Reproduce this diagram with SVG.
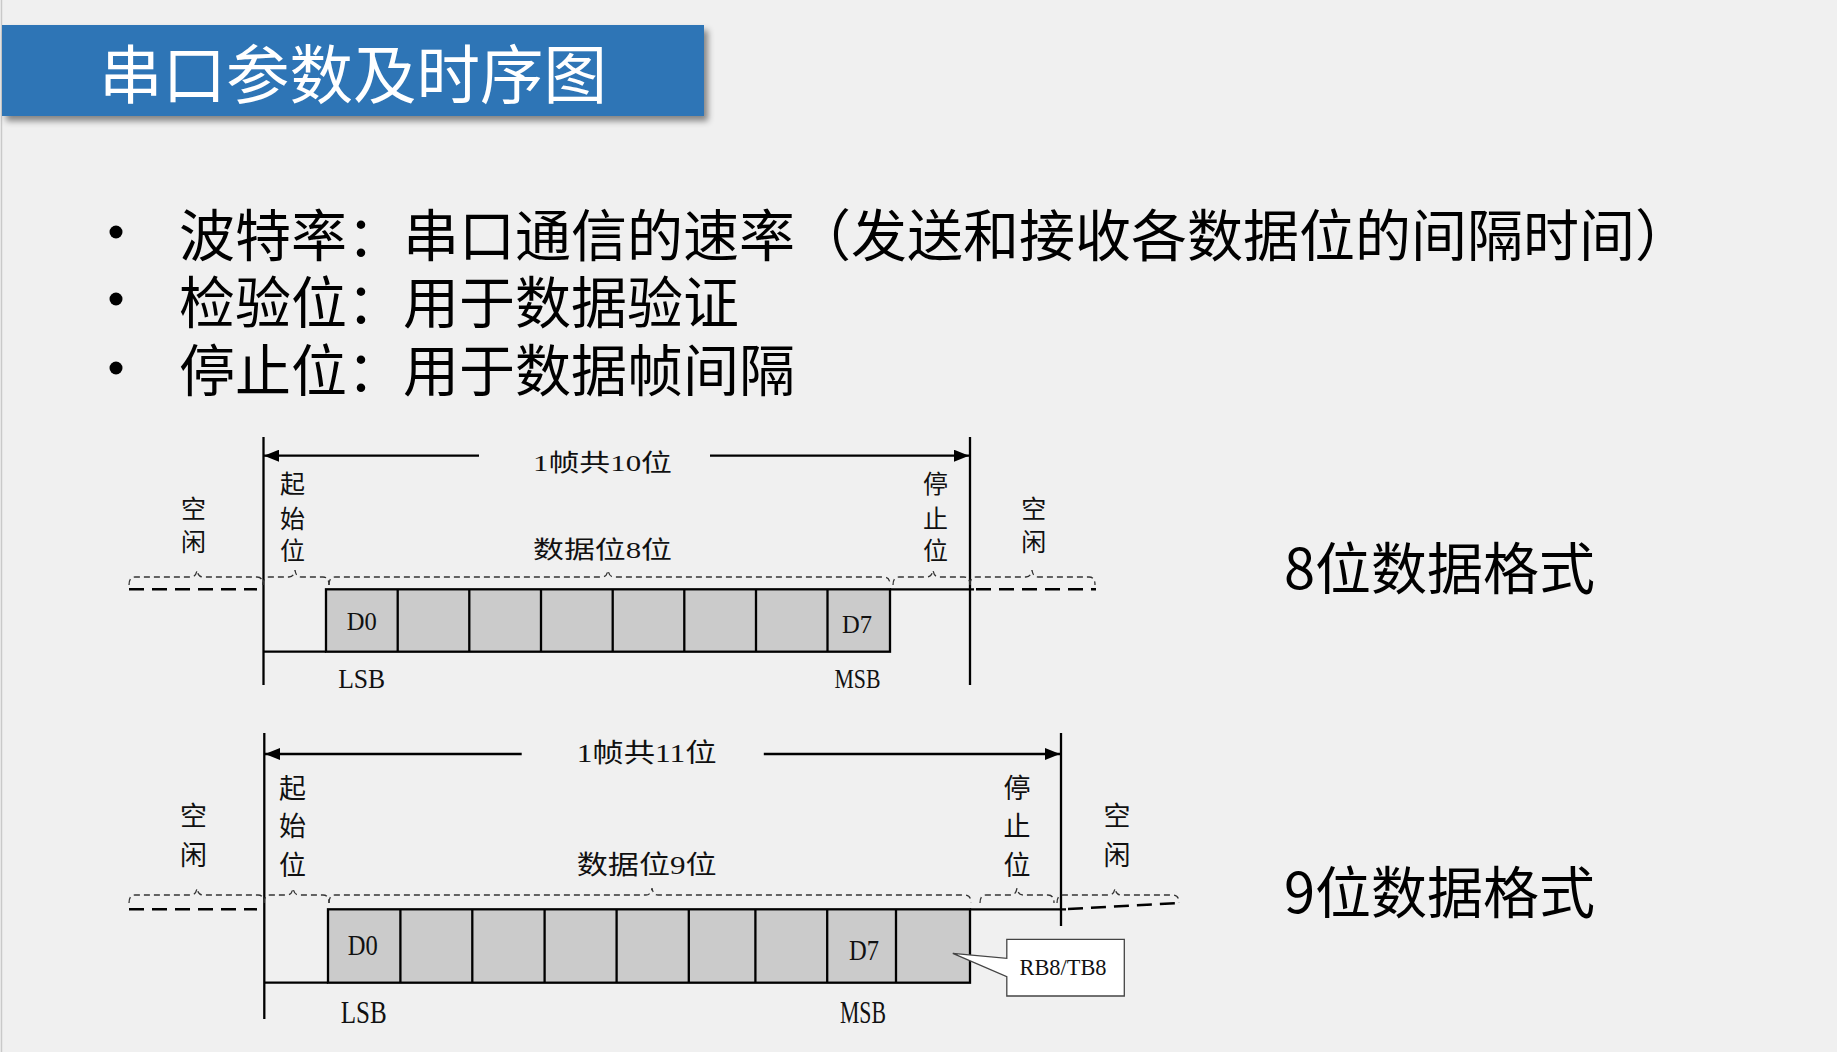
<svg xmlns="http://www.w3.org/2000/svg" width="1837" height="1052" viewBox="0 0 1837 1052">
<defs>
<filter id="sh" x="-5%" y="-20%" width="115%" height="150%">
<feDropShadow dx="4" dy="5" stdDeviation="3" flood-color="#000" flood-opacity="0.45"/>
</filter>
<marker id="ah" viewBox="0 0 15 12" refX="15" refY="6" markerWidth="15" markerHeight="12" markerUnits="userSpaceOnUse" orient="auto">
<path d="M0,0 L15,6 L0,12 Z" fill="#000"/>
</marker>
<style>
.cjk{font-family:"Noto Sans CJK SC","Noto Sans",sans-serif;}
.title{fill:#fff;font-size:63.5px;}
.bul{fill:#000;font-size:56px;}
.big{fill:#000;font-size:56px;}
.lab{font-family:"Liberation Serif","Noto Sans CJK SC",serif;fill:#111;}
.v1{font-size:25px;text-anchor:middle;}
.v2{font-size:27px;text-anchor:middle;}
.ln{stroke:#000;stroke-width:2.3;fill:none;}
.cell{fill:#cbcbcb;stroke:#000;stroke-width:2.3;}
.div{stroke:#000;stroke-width:2.3;}
.idle{stroke:#000;stroke-width:2.5;fill:none;stroke-dasharray:15 8;}
.brace{stroke:#333;stroke-width:1.3;fill:none;stroke-dasharray:6 4;}
.arr{stroke:#000;stroke-width:2.3;fill:none;marker-end:url(#ah);}
</style>
</defs>
<rect width="1837" height="1052" fill="#f0f0f0"/>
<line x1="1.5" y1="0" x2="1.5" y2="1052" stroke="#c9c9c9" stroke-width="1.5"/>

<g id="title">
<rect x="2" y="25" width="702" height="91" fill="#2e75b6" filter="url(#sh)"/>
<text class="cjk title" x="99" y="98">串口参数及时序图</text>
</g>

<g id="bullets">
<circle cx="116" cy="232" r="6.5" fill="#000"/>
<circle cx="116" cy="299" r="6.5" fill="#000"/>
<circle cx="116" cy="368" r="6.5" fill="#000"/>
<text class="cjk bul" x="179" y="256">波特率：串口通信的速率（发送和接收各数据位的间隔时间）</text>
<text class="cjk bul" x="179" y="323">检验位：用于数据验证</text>
<text class="cjk bul" x="179" y="391">停止位：用于数据帧间隔</text>
</g>

<g id="label-8bit"><text class="cjk big" x="1284" y="589">8位数据格式</text></g>
<g id="label-9bit"><text class="cjk big" x="1284" y="913">9位数据格式</text></g>

<!-- ===== 8-bit frame ===== -->
<g id="frame8-bounds">
<line class="ln" x1="263.5" y1="437" x2="263.5" y2="685"/>
<line class="ln" x1="970" y1="437" x2="970" y2="685"/>
</g>
<g id="frame8-connectors">
<line class="arr" x1="479" y1="455.7" x2="264" y2="455.7"/>
<line class="arr" x1="710" y1="455.7" x2="969" y2="455.7"/>
<line class="idle" x1="129" y1="589.3" x2="257" y2="589.3"/>
<path class="ln" d="M263.5,651.7 H326"/>
<path class="ln" d="M890,589.3 H974"/>
<line class="idle" x1="976" y1="589.3" x2="1096" y2="589.3"/>
<path class="brace" d="M129,585 Q129,577 135,577 H191 Q196,577 197,570 Q198,577 203,577 H257 Q263,577 263,585"/>
<path class="brace" d="M263,585 Q263,577 269,577 H289 Q294,577 295,570 Q296,577 301,577 H323 Q329,577 329,585"/>
<path class="brace" d="M329,585 Q329,577 335,577 H602 Q607,577 608,570 Q609,577 614,577 H884 Q890,577 890,585"/>
<path class="brace" d="M893,585 Q893,577 899,577 H927 Q932,577 933,570 Q934,577 939,577 H964 Q970,577 970,585"/>
<path class="brace" d="M970,585 Q970,577 976,577 H1026 Q1031,577 1032,570 Q1033,577 1038,577 H1089 Q1095,577 1095,585"/>
</g>
<g id="frame8-data">
<rect class="cell" x="326" y="589.3" width="564" height="62.4"/>
<path class="div" d="M397.7,589.3 V651.7 M469.3,589.3 V651.7 M541,589.3 V651.7 M612.7,589.3 V651.7 M684.3,589.3 V651.7 M756,589.3 V651.7 M827.5,589.3 V651.7"/>
<text class="lab" x="361.7" y="630" font-size="26" text-anchor="middle" textLength="30" lengthAdjust="spacingAndGlyphs">D0</text>
<text class="lab" x="857" y="633" font-size="26" text-anchor="middle" textLength="30" lengthAdjust="spacingAndGlyphs">D7</text>
<text class="lab" x="361.7" y="688" font-size="27" text-anchor="middle" textLength="47" lengthAdjust="spacingAndGlyphs">LSB</text>
<text class="lab" x="857.5" y="688" font-size="27" text-anchor="middle" textLength="46" lengthAdjust="spacingAndGlyphs">MSB</text>
</g>
<g id="frame8-labels">
<text class="lab" x="533" y="471" font-size="24" textLength="139" lengthAdjust="spacingAndGlyphs">1帧共10位</text>
<text class="lab" x="533" y="558" font-size="24" textLength="139" lengthAdjust="spacingAndGlyphs">数据位8位</text>
<text class="lab v1" x="292.5" y="493">起</text>
<text class="lab v1" x="292.5" y="528">始</text>
<text class="lab v1" x="292.5" y="560">位</text>
<text class="lab v1" x="935.5" y="493">停</text>
<text class="lab v1" x="935.5" y="528">止</text>
<text class="lab v1" x="935.5" y="560">位</text>
<text class="lab v1" x="193.5" y="518">空</text>
<text class="lab v1" x="193.5" y="551">闲</text>
<text class="lab v1" x="1033.7" y="518">空</text>
<text class="lab v1" x="1033.7" y="551">闲</text>
</g>

<!-- ===== 9-bit frame ===== -->
<g id="frame9-bounds">
<line class="ln" x1="264.3" y1="733" x2="264.3" y2="1019"/>
<line class="ln" x1="1061" y1="733" x2="1061" y2="926"/>
</g>
<g id="frame9-connectors">
<line class="arr" x1="521.7" y1="754" x2="265" y2="754"/>
<line class="arr" x1="763.8" y1="754" x2="1060" y2="754"/>
<line class="idle" x1="129" y1="909.3" x2="257" y2="909.3"/>
<path class="ln" d="M264.3,982.7 H328"/>
<path class="ln" d="M970,909.3 H1066"/>
<line class="idle" x1="1068" y1="909" x2="1179" y2="903"/>
<path class="brace" d="M129,903 Q129,895 135,895 H191 Q196,895 197,888 Q198,895 203,895 H258 Q264,895 264,903"/>
<path class="brace" d="M264,903 Q264,895 270,895 H287 Q292,895 293,888 Q294,895 299,895 H323 Q329,895 329,903"/>
<path class="brace" d="M329,903 Q329,895 335,895 H646 Q651,895 652,888 Q653,895 658,895 H965 Q971,895 971,903"/>
<path class="brace" d="M980,903 Q980,895 986,895 H1011 Q1016,895 1017,888 Q1018,895 1023,895 H1048 Q1054,895 1054,903"/>
<path class="brace" d="M1057,903 Q1057,895 1063,895 H1109 Q1114,895 1115,888 Q1116,895 1121,895 H1173 Q1179,895 1179,903"/>
</g>
<g id="frame9-data">
<rect class="cell" x="328" y="909.3" width="642" height="73.4"/>
<path class="div" d="M400.4,909.3 V982.7 M472.3,909.3 V982.7 M544.6,909.3 V982.7 M616.6,909.3 V982.7 M688.8,909.3 V982.7 M755.4,909.3 V982.7 M827.2,909.3 V982.7 M896,909.3 V982.7"/>
<text class="lab" x="362.7" y="955" font-size="30" text-anchor="middle" textLength="30" lengthAdjust="spacingAndGlyphs">D0</text>
<text class="lab" x="864" y="960" font-size="30" text-anchor="middle" textLength="30" lengthAdjust="spacingAndGlyphs">D7</text>
<text class="lab" x="363.7" y="1023" font-size="31" text-anchor="middle" textLength="46" lengthAdjust="spacingAndGlyphs">LSB</text>
<text class="lab" x="863" y="1022.7" font-size="31" text-anchor="middle" textLength="46" lengthAdjust="spacingAndGlyphs">MSB</text>
</g>
<g id="frame9-labels">
<text class="lab" x="576.7" y="762" font-size="26" textLength="140" lengthAdjust="spacingAndGlyphs">1帧共11位</text>
<text class="lab" x="576.7" y="874" font-size="26" textLength="140" lengthAdjust="spacingAndGlyphs">数据位9位</text>
<text class="lab v2" x="292.5" y="798">起</text>
<text class="lab v2" x="292.5" y="836">始</text>
<text class="lab v2" x="292.5" y="875">位</text>
<text class="lab v2" x="1017" y="798">停</text>
<text class="lab v2" x="1017" y="836">止</text>
<text class="lab v2" x="1017" y="875">位</text>
<text class="lab v2" x="193.5" y="826">空</text>
<text class="lab v2" x="193.5" y="865">闲</text>
<text class="lab v2" x="1117" y="826">空</text>
<text class="lab v2" x="1117" y="865">闲</text>
</g>
<g id="callout-rb8">
<path d="M1006.8,939.3 H1124.3 V996 H1006.8 V976.7 L952.8,953.3 L1006.8,958.3 Z" fill="#fff" stroke="#444" stroke-width="1.3"/>
<text class="lab" x="1063" y="975" font-size="24" text-anchor="middle" textLength="87" lengthAdjust="spacingAndGlyphs">RB8/TB8</text>
</g>
</svg>
